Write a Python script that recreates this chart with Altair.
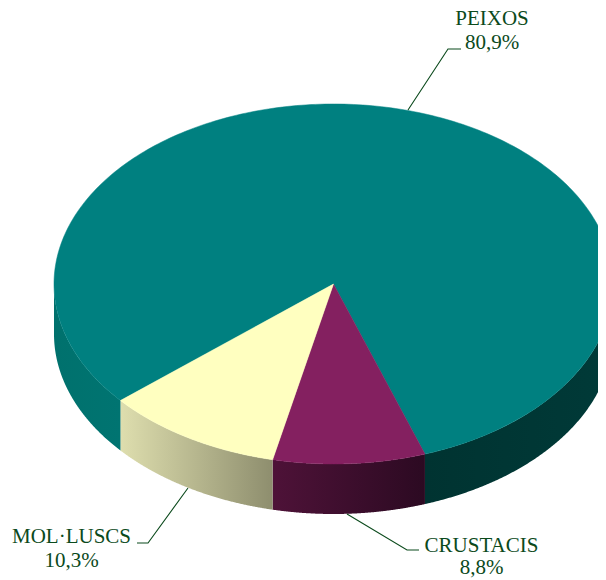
import altair as alt
import numpy as np
import pandas as pd

categories = ["CRUSTACIS", "MOL·LUSCS", "PEIXOS"]
values = [8.8, 10.3, 80.9]
pct_labels = ["8,8%", "10,3%", "80,9%"]
top_colors = ["#842060", "#FFFFC0", "#008080"]

# Perspective of the pie (px on the page)
CX, CY, RX, RY, DEPTH = 333.5, 284.0, 279.5, 180.0, 50.0
START = -19.1
INK = "#0B4A1C"
FONT = "Liberation Serif"
FS = 21

xs = alt.Scale(domain=[8, 598], range=[0, 590], nice=False, zero=False)
ys = alt.Scale(domain=[8, 580], range=[0, 572], nice=False, zero=False)
X = alt.X("x:Q", scale=xs, axis=None)
Y = alt.Y("y:Q", scale=ys, axis=None)


def arc(a0, a1, n=200):
    a = np.radians(np.linspace(a0, a1, n))
    return CX - RX * np.sin(a), CY + RY * np.cos(a)


edges = START + np.cumsum([0] + values) * 3.6


def wall(a0, a1, stops):
    x, y = arc(a0, a1)
    df = pd.DataFrame({"x": x, "y": y + DEPTH, "y0": y})
    grad = alt.Gradient(
        gradient="linear", x1=0, x2=1, y1=0, y2=0,
        stops=[alt.GradientStop(offset=o, color=c) for o, c in stops],
    )
    return alt.Chart(df).mark_area(color=grad, clip=True).encode(x=X, y=Y, y2="y0:Q")


def wedge(a0, a1, color):
    x, y = arc(a0, a1, 300)
    df = pd.DataFrame({"x": np.r_[CX, x], "y": np.r_[CY, y], "i": np.arange(len(x) + 1)})
    return alt.Chart(df).mark_line(
        interpolate="linear-closed", fill=color, stroke=color, strokeWidth=0.5, clip=True
    ).encode(x=X, y=Y, order="i:Q")


walls = [
    wall(-90, edges[0], [(0, "#003331"), (1, "#003A38")]),
    wall(edges[0], edges[1], [(0, "#4E1238"), (1, "#2C0A22")]),
    wall(edges[1], edges[2], [(0, "#DEDEAE"), (1, "#8E8E6E")]),
    wall(edges[2], 90, [(0, "#00716D"), (1, "#007471")]),
]
tops = [
    wedge(edges[2], edges[3], top_colors[2]),
    wedge(edges[0], edges[1], top_colors[0]),
    wedge(edges[1], edges[2], top_colors[1]),
]

leader_groups = {
    "CRUSTACIS": ([347, 407, 419], [514, 550, 550]),
    "MOL·LUSCS": ([188, 148, 137], [488, 543, 543]),
    "PEIXOS": ([408, 448, 461], [110, 49, 49]),
}
leaders = []
for name, (lx, ly) in leader_groups.items():
    d = pd.DataFrame({"x": lx, "y": ly, "i": range(len(lx))})
    leaders.append(
        alt.Chart(d).mark_line(color=INK, strokeWidth=1.1).encode(x=X, y=Y, order="i:Q")
    )

label_x = [481.5, 71.5, 492]
name_y = [552, 543, 25]
pct_y = [574, 567, 49]
labels_df = pd.DataFrame(
    {
        "x": label_x * 2,
        "y": name_y + pct_y,
        "t": categories + pct_labels,
    }
)
labels = (
    alt.Chart(labels_df)
    .mark_text(font=FONT, fontSize=FS, color=INK, align="center", baseline="alphabetic")
    .encode(x=X, y=Y, text="t:N")
)

chart = (
    alt.layer(*walls, *tops, *leaders, labels)
    .properties(
        width=590,
        height=572,
        padding=0,
        autosize=alt.AutoSizeParams(type="none"),
        background="white",
    )
    .configure_view(stroke=None)
)
chart.save("out.html", embed_options={"renderer": "svg", "actions": False})
